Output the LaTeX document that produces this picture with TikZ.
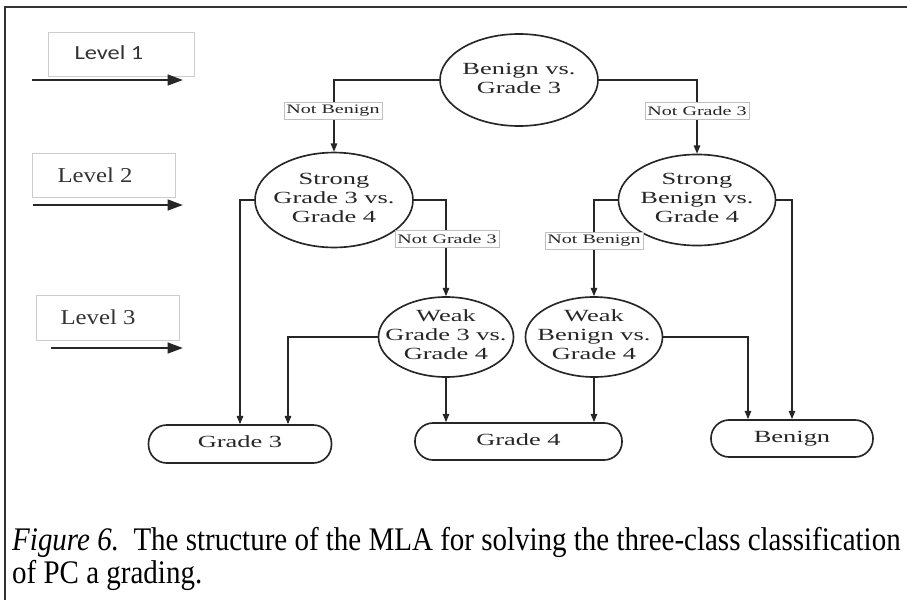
\documentclass[tikz,border=0pt]{standalone}
\usepackage{fontspec}
\setmainfont{Liberation Serif}
\newfontfamily\calfont{Carlito}
\usetikzlibrary{shapes.geometric,arrows.meta,calc}
\newcommand{\wtext}[2][1.55]{\scalebox{#1}[1]{\begin{tabular}{@{}c@{}}#2\end{tabular}}}
\begin{document}
\begin{tikzpicture}[x=0.85pt,y=-0.85pt,
 ell/.style={ellipse,draw=black!85,line width=1.4pt,inner sep=0},
 txt/.style={font=\fontsize{14.5}{16}\selectfont,inner sep=0,text=black!85},
 term/.style={rectangle,rounded corners=15.5pt,draw=black!85,line width=1.4pt,inner sep=0,font=\fontsize{14.5}{16}\selectfont,text=black!85},
 lab/.style={draw=black!25,line width=0.5pt,fill=white,inner xsep=2pt,inner ysep=0pt,minimum height=14.5pt,font=\fontsize{11}{12}\selectfont,text=black!85},
 conn/.style={line width=1.2pt,draw=black!85,-{Triangle[length=7pt,width=5.5pt]}},
 lvlbox/.style={draw=black!20,line width=0.6pt,inner sep=0},
 lvltxt/.style={inner sep=0,text=black!80},
 lvlarrow/.style={line width=2pt,draw=black!85,-{Triangle[length=13pt,width=9pt]}},
 captxt/.style={anchor=base west,inner sep=0,font=\fontsize{28}{32}\selectfont}
]
\useasboundingbox (0,0) rectangle (907,600);
\draw[line width=1.8pt,black!80] (907,7) -- (5,7) -- (5,600);

% level markers
\node[lvlbox,minimum width=124pt,minimum height=37.4pt] (lb1) at (121,54) {};
\node[lvltxt,font=\calfont\fontsize{17}{20}\selectfont] (lt1) at (109,53) {\scalebox{1.22}[1]{Level 1}};
\node[lvlbox,minimum width=121.5pt,minimum height=37.4pt] (lb2) at (103.5,175) {};
\node[lvltxt,font=\fontsize{18}{20}\selectfont] (lt2) at (95,175) {\scalebox{1.17}[1]{Level 2}};
\node[lvlbox,minimum width=121.5pt,minimum height=38.3pt] (lb3) at (107.5,317.5) {};
\node[lvltxt,font=\fontsize{18}{20}\selectfont] (lt3) at (98,317) {\scalebox{1.17}[1]{Level 3}};
\coordinate (la1s) at (32,80);  \coordinate (la1e) at (183,80);
\coordinate (la2s) at (33,205); \coordinate (la2e) at (183,205);
\coordinate (la3s) at (51,348); \coordinate (la3e) at (183,348);
\draw[lvlarrow] (la1s) -- (la1e);
\draw[lvlarrow] (la2s) -- (la2e);
\draw[lvlarrow] (la3s) -- (la3e);

% decision ellipses
\node[ell,minimum width=134.3pt,minimum height=78.2pt] (b1) at (519,80) {};
\node[ell,minimum width=134.3pt,minimum height=80.7pt] (s1) at (334,200) {};
\node[ell,minimum width=133.5pt,minimum height=77.4pt] (s2) at (697,200) {};
\node[ell,minimum width=114.8pt,minimum height=68pt] (w1) at (446,337) {};
\node[ell,minimum width=116.5pt,minimum height=68pt] (w2) at (594,337) {};
\node[txt] (b1t) at (b1) {\wtext{Benign vs.\\Grade 3}};
\node[txt] (s1t) at (s1) {\wtext{Strong\\Grade 3 vs.\\Grade 4}};
\node[txt] (s2t) at (s2) {\wtext{Strong\\Benign vs.\\Grade 4}};
\node[txt] (w1t) at (w1) {\wtext{Weak\\Grade 3 vs.\\Grade 4}};
\node[txt] (w2t) at (w2) {\wtext{Weak\\Benign vs.\\Grade 4}};

% terminals
\node[term,minimum width=155.5pt,minimum height=32.3pt] (g3) at (240,444) {\wtext{Grade 3}};
\node[term,minimum width=176pt,minimum height=31.5pt] (g4) at (518.5,441.5) {\wtext{Grade 4}};
\node[term,minimum width=137.7pt,minimum height=31.5pt] (bn) at (792,438.5) {\wtext{Benign}};

% connectors
\draw[conn] (b1.west) -| (s1.north);
\draw[conn] (b1.east) -| (s2.north);
\draw[conn] (s1.west) -| (g3.north);
\draw[conn] (s1.east) -| (w1.north);
\draw[conn] (s2.west) -| (w2.north);
\draw[conn] (s2.east) -| (bn.north);
\draw[conn] (w1.west) -| ($(g3.north)+(48,0)$);
\draw[conn] (w1.south) -- (w1.south |- g4.north);
\draw[conn] (w2.south) -- (w2.south |- g4.north);
\draw[conn] (w2.east) -| ($(bn.north)+(-44,0)$);

% branch labels
\node[lab] (lab1) at (333,111) {\scalebox{1.55}[1]{Not Benign}};
\node[lab] (lab2) at (697,111) {\scalebox{1.55}[1]{Not Grade 3}};
\node[lab] (lab3) at (447,239) {\scalebox{1.55}[1]{Not Grade 3}};
\node[lab] (lab4) at (594,241) {\scalebox{1.55}[1]{Not Benign}};

% caption
\node[captxt] (cap1) at (12,550) {\scalebox{0.88}[1]{\textit{Figure 6.}\ \ The structure of the MLA for solving the three-class classification}};
\node[captxt] (cap2) at (12,583) {\scalebox{0.88}[1]{of PC a grading.}};
\end{tikzpicture}
\end{document}
